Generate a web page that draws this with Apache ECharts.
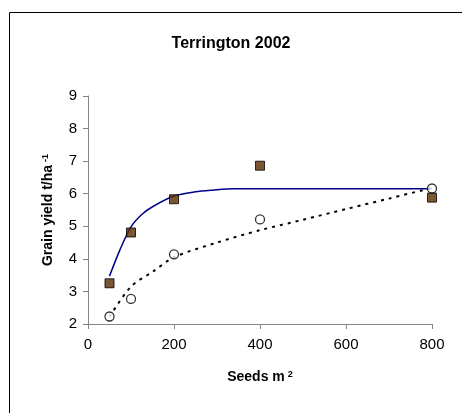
<!DOCTYPE html>
<html>
<head>
<meta charset="utf-8">
<style>
  html, body { margin: 0; padding: 0; background: #fff; }
  #chart { width: 462px; height: 413px; }
</style>
<script src="https://cdn.jsdelivr.net/npm/echarts@6/dist/echarts.min.js"></script>
</head>
<body>
<div id="chart"></div>
<script>
// Seed rate (seeds per m²)
const seedRates = [50, 100, 200, 400, 800];
// Grain yield, t/ha
const yieldSquares = [3.25, 4.81, 5.83, 6.86, 5.88];
const yieldCircles = [2.23, 2.77, 4.14, 5.21, 6.16];

// Fitted response curves: [seed rate, yield]
const fitSquares = [
  [50, 3.47], [75, 4.3], [100, 4.98], [125, 5.36], [150, 5.6], [200, 5.93],
  [250, 6.06], [290, 6.11], [340, 6.15], [800, 6.15]
];
const fitCircles = [
  [50, 2.22], [100, 3.15], [150, 3.6], [200, 4.05], [300, 4.5],
  [400, 4.88], [500, 5.2], [600, 5.53], [700, 5.85], [800, 6.18]
];

const xTicks = { min: 0, max: 800, interval: 200 };
const yTicks = { min: 2, max: 9, interval: 1 };

const chart = echarts.init(document.getElementById('chart'), null, { renderer: 'canvas' });

const FONT = 'Liberation Sans, Arial, sans-serif';
const axisGrey = '#868686';

chart.setOption({
  animation: false,
  backgroundColor: '#ffffff',
  title: {
    text: 'Terrington 2002',
    left: 'center',
    top: 31,
    textStyle: { fontFamily: FONT, fontSize: 16, fontWeight: 'bold', color: '#000' }
  },
  graphic: [{
    type: 'rect',
    shape: { x: 9.5, y: 12.5, width: 600, height: 600 },
    style: { fill: 'none', stroke: '#000', lineWidth: 1 },
    silent: true,
    z: -1
  }],
  grid: { left: 88, right: 30, top: 96, bottom: 89 },
  xAxis: {
    type: 'value',
    min: xTicks.min, max: xTicks.max, interval: xTicks.interval,
    name: '{a|Seeds m}{s|2}',
    nameLocation: 'middle',
    nameGap: 46,
    nameTextStyle: {
      rich: {
        a: { fontFamily: FONT, fontSize: 14, fontWeight: 'bold', color: '#000' },
        s: { fontFamily: FONT, fontSize: 9, fontWeight: 'bold', color: '#000', verticalAlign: 'top', padding: [0, 0, 6, 3] }
      }
    },
    axisLine: { show: true, onZero: false, lineStyle: { color: axisGrey, width: 1 } },
    axisTick: { show: true, inside: false, length: 5, lineStyle: { color: axisGrey } },
    axisLabel: { fontFamily: FONT, fontSize: 15, color: '#000', margin: 13 },
    splitLine: { show: false }
  },
  yAxis: {
    type: 'value',
    min: yTicks.min, max: yTicks.max, interval: yTicks.interval,
    name: '{a|Grain yield t/ha}{s|-1}',
    nameLocation: 'middle',
    nameGap: 32,
    nameRotate: 90,
    nameTextStyle: {
      rich: {
        a: { fontFamily: FONT, fontSize: 14, fontWeight: 'bold', color: '#000' },
        s: { fontFamily: FONT, fontSize: 9, fontWeight: 'bold', color: '#000', verticalAlign: 'top', padding: [0, 0, 6, 3] }
      }
    },
    axisLine: { show: true, onZero: false, lineStyle: { color: axisGrey, width: 1 } },
    axisTick: { show: true, inside: false, length: 5, lineStyle: { color: axisGrey } },
    axisLabel: { fontFamily: FONT, fontSize: 15, color: '#000', margin: 11 },
    splitLine: { show: false }
  },
  series: [
    {
      type: 'line',
      data: fitSquares,
      smooth: 0.3,
      showSymbol: false,
      lineStyle: { color: '#00008b', width: 1.5 },
      z: 1
    },
    {
      type: 'line',
      data: fitCircles,
      smooth: 0.3,
      showSymbol: false,
      lineStyle: { color: '#000', width: 2, type: [3, 5] },
      z: 1
    },
    {
      type: 'scatter',
      data: seedRates.map((x, i) => [x, yieldSquares[i]]),
      symbol: 'rect',
      symbolSize: 9,
      itemStyle: { color: '#5a2c00', borderColor: '#000', borderWidth: 1 },
      z: 3
    },
    {
      type: 'scatter',
      data: seedRates.map((x, i) => [x, yieldCircles[i]]),
      symbol: 'circle',
      symbolSize: 9,
      itemStyle: { color: '#ffffff', borderColor: '#000', borderWidth: 1.3 },
      z: 4
    }
  ]
});
</script>
</body>
</html>
